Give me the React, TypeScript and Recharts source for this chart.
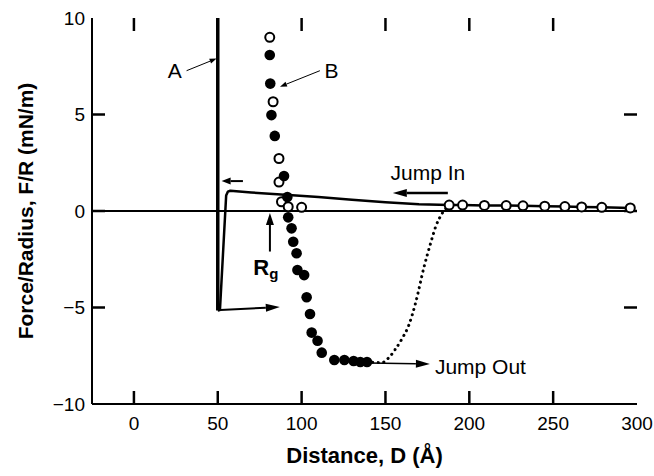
import { ComposedChart, Line, Scatter, XAxis, YAxis, ReferenceLine, ReferenceDot } from 'recharts'

const FONT = '"Liberation Sans", Arial, Helvetica, sans-serif'

const xTicks = [0, 50, 100, 150, 200, 250, 300]
const xInnerTicks = [0, 50, 100, 150, 200, 250]
const yTicks = [-10, -5, 0, 5, 10]
const yInnerTicks = [-5, 0, 5]

// curve A: hard wall at 50 Å
const wallA = [{ d: 50, f: 10 }, { d: 50, f: -5.15 }]
// curve A: jump out, then weak attraction back to baseline
const curveA = [
  { d: 50, f: -5.15 }, { d: 51.3, f: -5.13 }, { d: 55, f: 0.8 },
  { d: 56, f: 1.0 }, { d: 57.5, f: 1.05 }, { d: 70, f: 0.96 }, { d: 90, f: 0.84 },
  { d: 110, f: 0.72 }, { d: 130, f: 0.58 }, { d: 150, f: 0.45 }, { d: 170, f: 0.35 },
  { d: 188, f: 0.31 },
]

// open circles far out (approach)
const openFar = [
  { d: 188, f: 0.31 }, { d: 196, f: 0.31 }, { d: 209, f: 0.29 }, { d: 222, f: 0.28 },
  { d: 232, f: 0.27 }, { d: 245, f: 0.25 }, { d: 257, f: 0.23 }, { d: 267, f: 0.21 },
  { d: 279, f: 0.19 }, { d: 296, f: 0.16 },
]

// curve B, open circles near contact
const openB = [
  { d: 81, f: 9.0 }, { d: 83, f: 5.66 }, { d: 86.5, f: 2.72 }, { d: 86.5, f: 1.5 },
  { d: 88, f: 0.48 }, { d: 92, f: 0.22 }, { d: 100, f: 0.19 },
]

// curve B, filled circles (separation)
const filledB = [
  { d: 81, f: 8.08 }, { d: 81.3, f: 6.6 }, { d: 82, f: 4.97 }, { d: 84, f: 3.89 },
  { d: 89.5, f: 1.81 }, { d: 91.5, f: 0.72 }, { d: 92, f: -0.33 }, { d: 94, f: -0.9 },
  { d: 95, f: -1.59 }, { d: 97, f: -2.19 }, { d: 97.5, f: -3.06 }, { d: 101.5, f: -3.32 },
  { d: 103, f: -4.47 }, { d: 105, f: -5.34 }, { d: 106, f: -6.3 }, { d: 109.5, f: -6.72 },
  { d: 112, f: -7.34 }, { d: 119.5, f: -7.72 }, { d: 125.5, f: -7.72 }, { d: 131, f: -7.77 },
  { d: 135, f: -7.82 }, { d: 139, f: -7.82 },
]

// dotted jump-out path
const jumpOutPath = [
  { d: 139, f: -7.82 }, { d: 148, f: -7.85 }, { d: 152, f: -7.6 }, { d: 156, f: -7.15 },
  { d: 160, f: -6.6 }, { d: 164, f: -5.9 }, { d: 168, f: -4.75 }, { d: 173, f: -2.9 },
  { d: 177, f: -1.65 }, { d: 180, f: -0.8 }, { d: 184, f: -0.1 }, { d: 188, f: 0.31 },
]

const X_MIN = -25, X_MAX = 300, Y_MIN = -10, Y_MAX = 10
const TICK = 13

// tick anchor points on the frame, built from the tick lists
const bottomMarks = xInnerTicks.map((t) => ({ d: t, f: Y_MIN }))
const topMarks = xInnerTicks.map((t) => ({ d: t, f: Y_MAX }))
const leftMarks = yInnerTicks.map((t) => ({ d: X_MIN, f: t }))
const rightMarks = yInnerTicks.map((t) => ({ d: X_MAX, f: t }))

const fmt = (v: number) => (v < 0 ? `\u2212${Math.abs(v)}` : `${v}`)

function BottomTick({ x, y, payload }: any) {
  return (
    <text x={x} y={y + 19} textAnchor="middle" dominantBaseline="central" fontSize={19} fontFamily={FONT} fill="#000">
      {fmt(payload.value)}
    </text>
  )
}
function LeftTick({ x, y, payload }: any) {
  return (
    <text x={x - 7} y={y} textAnchor="end" dominantBaseline="central" fontSize={19} fontFamily={FONT} fill="#000">
      {fmt(payload.value)}
    </text>
  )
}

const xTitle = ({ viewBox }: any) => (
  <text x={viewBox.x + viewBox.width / 2} y={viewBox.y + viewBox.height - 13} textAnchor="middle"
    fontSize={22} fontWeight="bold" fontFamily={FONT} fill="#000">
    Distance, D (Å)
  </text>
)
const yTitle = ({ viewBox }: any) => (
  <text transform={`translate(25,${viewBox.y + viewBox.height / 2}) rotate(-90)`} textAnchor="middle"
    dominantBaseline="central" fontSize={21} fontWeight="bold" fontFamily={FONT} fill="#000">
    Force/Radius, F/R (mN/m)
  </text>
)

// inward tick mark drawn from a point placed on the frame
const tickMark = (dx: number, dy: number) => (p: any) => (
  <line x1={p.cx} y1={p.cy} x2={p.cx + dx} y2={p.cy + dy} stroke="#000" strokeWidth={2.5} />
)

// arrow drawn between the two points the reference line gets from the scales
const arrow = (w: number, len: number, half: number) => (p: any) => {
  const { x1, y1, x2, y2 } = p
  const a = Math.atan2(y2 - y1, x2 - x1)
  const bx = x2 - len * Math.cos(a), by = y2 - len * Math.sin(a)
  const nx = -Math.sin(a) * half, ny = Math.cos(a) * half
  return (
    <g>
      <line x1={x1} y1={y1} x2={bx} y2={by} stroke="#000" strokeWidth={w} />
      <polygon points={`${x2},${y2} ${bx + nx},${by + ny} ${bx - nx},${by - ny}`} fill="#000" />
    </g>
  )
}

const label = (txt: string, anchor = 'middle') => (p: any) => (
  <text x={p.cx} y={p.cy} textAnchor={anchor} dominantBaseline="central" fontSize={21} fontFamily={FONT} fill="#000">
    {txt}
  </text>
)
const rgLabel = (p: any) => (
  <text x={p.cx} y={p.cy} textAnchor="middle" dominantBaseline="central" fontSize={22} fontWeight="bold" fontFamily={FONT} fill="#000">
    R<tspan fontSize={15} dy={5}>g</tspan>
  </text>
)

const openDot = (p: any) => <circle cx={p.cx} cy={p.cy} r={4.5} fill="#fff" stroke="#000" strokeWidth={2} />
const filledDot = (p: any) => <circle cx={p.cx} cy={p.cy} r={5.3} fill="#000" />

const axisLine = { stroke: '#000', strokeWidth: 2 }

export default function App() {
  return (
    <div style={{ position: 'absolute', left: 0, top: 0, background: '#fff' }}>
      <ComposedChart width={654} height={476} margin={{ top: 18, right: 17, bottom: 0, left: 0 }}>
        <XAxis dataKey="d" type="number" domain={[X_MIN, X_MAX]} ticks={xTicks} interval={0} allowDataOverflow
          height={72} tickSize={0} tickMargin={0} tick={<BottomTick />}
          axisLine={axisLine} tickLine={false} label={{ content: xTitle }} />
        <XAxis xAxisId="top" orientation="top" type="number" domain={[X_MIN, X_MAX]} ticks={xInnerTicks}
          allowDataOverflow height={0} tick={false} axisLine={axisLine} tickLine={false} />
        <YAxis type="number" domain={[Y_MIN, Y_MAX]} ticks={yTicks} interval={0} allowDataOverflow width={92}
          tickSize={0} tickMargin={0} tick={<LeftTick />} axisLine={axisLine}
          tickLine={false} label={{ content: yTitle }} />
        <YAxis yAxisId="right" orientation="right" type="number" domain={[Y_MIN, Y_MAX]} ticks={yTicks}
          allowDataOverflow width={0} tick={false} axisLine={axisLine} tickLine={false} />

        {/* inward tick marks on all four sides */}
        <Scatter data={bottomMarks} dataKey="f" shape={tickMark(0, -TICK)} isAnimationActive={false} />
        <Scatter data={topMarks} dataKey="f" shape={tickMark(0, TICK)} isAnimationActive={false} />
        <Scatter data={leftMarks} dataKey="f" shape={tickMark(TICK, 0)} isAnimationActive={false} />
        <Scatter data={rightMarks} dataKey="f" shape={tickMark(-TICK, 0)} isAnimationActive={false} />

        <ReferenceLine y={0} stroke="#000" strokeWidth={2} />

        <Line data={jumpOutPath} dataKey="f" type="monotone" stroke="#000" strokeWidth={3}
          strokeDasharray="0.1 5.5" strokeLinecap="round" dot={false} isAnimationActive={false} />
        <Line data={wallA} dataKey="f" type="linear" stroke="#000" strokeWidth={3.5}
          dot={false} isAnimationActive={false} />
        <Line data={curveA} dataKey="f" type="linear" stroke="#000" strokeWidth={2.5}
          strokeLinejoin="round" dot={false} isAnimationActive={false} />
        <Line data={openFar} dataKey="f" type="linear" stroke="#000" strokeWidth={2.5}
          dot={openDot} isAnimationActive={false} />
        <Scatter data={openB} dataKey="f" shape={openDot} isAnimationActive={false} />
        <Scatter data={filledB} dataKey="f" shape={filledDot} isAnimationActive={false} />

        <ReferenceLine segment={[{ x: 31.4, y: 7.27 }, { x: 49.3, y: 7.9 }]} shape={arrow(1, 7, 2.5)} />
        <ReferenceLine segment={[{ x: 110.9, y: 7.27 }, { x: 87.1, y: 6.44 }]} shape={arrow(1, 7, 2.5)} />
        <ReferenceLine segment={[{ x: 81.1, y: -2.1 }, { x: 81.1, y: -0.1 }]} shape={arrow(2, 12, 4)} />
        <ReferenceLine segment={[{ x: 51.5, y: -5.13 }, { x: 87, y: -4.97 }]} shape={arrow(2, 14, 4)} />
        <ReferenceLine segment={[{ x: 65, y: 1.55 }, { x: 52.3, y: 1.55 }]} shape={arrow(2, 9, 3.5)} />
        <ReferenceLine segment={[{ x: 187.2, y: 0.93 }, { x: 154.4, y: 0.93 }]} shape={arrow(2.5, 14, 4)} />
        <ReferenceLine segment={[{ x: 139.5, y: -7.88 }, { x: 176.5, y: -7.93 }]} shape={arrow(1.5, 14, 4)} />

        <ReferenceDot x={24.4} y={7.3} shape={label('A')} />
        <ReferenceDot x={117.9} y={7.3} shape={label('B')} />
        <ReferenceDot x={78.7} y={-2.95} shape={rgLabel} />
        <ReferenceDot x={175.3} y={1.97} shape={label('Jump In')} />
        <ReferenceDot x={179.5} y={-8.08} shape={label('Jump Out', 'start')} />
      </ComposedChart>
    </div>
  )
}
